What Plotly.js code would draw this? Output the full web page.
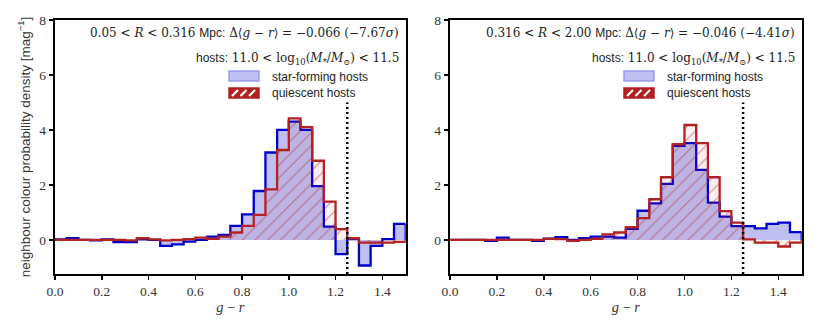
<!DOCTYPE html>
<html>
<head>
<meta charset="utf-8">
<script src="https://cdn.plot.ly/plotly-3.0.1.min.js"></script>
<style>
  body { margin: 0; background: #fff; }
  #grafica { width: 830px; height: 326px; }
</style>
</head>
<body>
<div id="grafica"></div>
<script>
// bin lower edges (g - r), width 0.05
const binStart = [0.00, 0.05, 0.10, 0.15, 0.20, 0.25, 0.30, 0.35, 0.40, 0.45,
                  0.50, 0.55, 0.60, 0.65, 0.70, 0.75, 0.80, 0.85, 0.90, 0.95,
                  1.00, 1.05, 1.10, 1.15, 1.20, 1.25, 1.30, 1.35, 1.40, 1.45];
const binEnd = 1.50;

// panel 1: 0.05 < R < 0.316 Mpc
const sfInner = [0.02, 0.06, 0.00, -0.02, 0.02, -0.08, -0.08, 0.02, 0.00, -0.22,
                 -0.16, -0.06, 0.00, 0.12, 0.18, 0.51, 0.93, 1.78, 3.18, 4.00,
                 4.30, 4.00, 1.96, 0.48, -0.52, 0.03, -0.93, -0.22, 0.03, 0.58];
const qInner  = [0.00, 0.00, 0.00, 0.00, 0.00, 0.00, -0.02, 0.06, 0.02, -0.02,
                 0.00, 0.03, 0.08, 0.04, 0.12, 0.27, 0.51, 0.91, 1.84, 3.27,
                 4.42, 4.10, 2.88, 1.39, 0.39, 0.06, -0.10, -0.10, -0.10, -0.07];

// panel 2: 0.316 < R < 2.00 Mpc
const sfOuter = [0.00, 0.00, 0.00, -0.03, 0.08, 0.00, 0.00, -0.03, 0.05, 0.10,
                 0.00, 0.06, 0.12, 0.12, 0.08, 0.40, 1.06, 1.33, 2.04, 3.42,
                 3.52, 2.55, 1.36, 0.85, 0.50, 0.50, 0.42, 0.58, 0.63, 0.28];
const qOuter  = [0.00, 0.00, 0.00, 0.00, 0.00, 0.00, 0.00, 0.00, 0.04, 0.03,
                 -0.03, 0.00, 0.04, 0.20, 0.27, 0.46, 0.79, 1.48, 2.28, 3.48,
                 4.18, 3.52, 2.28, 1.05, 0.63, 0.02, -0.10, -0.10, -0.24, -0.10];

const colourCut = 1.25;
const xTicks = [0.0, 0.2, 0.4, 0.6, 0.8, 1.0, 1.2, 1.4];
const yTicks = [0, 2, 4, 6, 8];

const panelText = [
  ['0.05', '0.316', '−0.066', '−7.67'],
  ['0.316', '2.00', '−0.046', '−4.41']
];
const hostsText = ['11.0', '11.5'];
const legendNames = ['star-forming hosts', 'quiescent hosts'];

const W = 830, H = 326;
const BLUE = '#0000CD', RED = '#B22222';
const SERIF = 'Liberation Serif, DejaVu Serif, serif';
const MATH = 'DejaVu Serif, serif';
const SANS = 'Liberation Sans, DejaVu Sans, sans-serif';

// outline of a histogram as a step line (closed down to zero at both ends)
function stepXY(vals) {
  const x = [binStart[0]].concat(binStart, [binEnd, binEnd]);
  const y = [0].concat(vals, [vals[vals.length - 1], 0]);
  return {x: x, y: y};
}

function histTraces(vals, xa, ya, kind) {
  const s = stepXY(vals);
  const t = {
    x: s.x, y: s.y, xaxis: xa, yaxis: ya,
    type: 'scatter', mode: 'lines', fill: 'tozeroy',
    line: {shape: 'hv', width: 2.3, color: kind === 'sf' ? BLUE : RED},
    showlegend: false, hoverinfo: 'skip'
  };
  if (kind === 'sf') {
    t.fillcolor = 'rgba(0,0,205,0.25)';
  } else {
    t.fillcolor = 'rgba(178,34,34,0.07)';
    t.fillpattern = {shape: '/', fgcolor: RED, size: 9, solidity: 0.12, fillmode: 'overlay'};
  }
  return t;
}

const data = [
  histTraces(sfInner, 'x', 'y', 'sf'),
  histTraces(qInner, 'x', 'y', 'q'),
  histTraces(sfOuter, 'x2', 'y2', 'sf'),
  histTraces(qOuter, 'x2', 'y2', 'q')
];

// pixel helpers for paper coordinates
const px = v => v / W;
const py = v => 1 - v / H;

const panelsLeft = [55, 450];
const panelsRight = [405.7, 801.7];

const shapes = [];
const annotations = [];
const sansSpan = s => '<span style="font-family:Liberation Sans">' + s + '</span>';

panelsLeft.forEach((left, i) => {
  const xr = i === 0 ? 'x' : 'x2', yr = i === 0 ? 'y' : 'y2';
  // colour cut
  shapes.push({type: 'line', xref: xr, yref: yr, x0: colourCut, x1: colourCut, y0: -1.24, y1: 5.0,
               line: {color: '#000', width: 2.5, dash: '2px,3px'}});

  const right = panelsRight[i];
  const t = panelText[i];
  annotations.push({
    xref: 'paper', yref: 'paper', x: px(right - 5), y: py(33), xanchor: 'right', yanchor: 'middle',
    showarrow: false, font: {family: MATH, size: 12, color: '#222'},
    text: t[0] + ' &lt; <i>R</i> &lt; ' + t[1] + ' ' + sansSpan('Mpc:') +
      ' Δ⟨<i>g</i> − <i>r</i>⟩ = ' + t[2] + ' (' + t[3] + '<i>σ</i>)'
  });
  annotations.push({
    xref: 'paper', yref: 'paper', x: px(right - 5), y: py(59), xanchor: 'right', yanchor: 'middle',
    showarrow: false, font: {family: MATH, size: 12, color: '#222'},
    text: sansSpan('hosts:') + ' ' + hostsText[0] +
      ' &lt; log<sub>10</sub>(<i>M</i><sub>*</sub>/<i>M</i><sub>⊙</sub>) &lt; ' + hostsText[1]
  });

  // legend
  const off = left - 55;
  const bx0 = 229 + off, bx1 = 259 + off;
  shapes.push({type: 'rect', xref: 'paper', yref: 'paper', x0: px(bx0), x1: px(bx1), y0: py(71), y1: py(81),
               fillcolor: 'rgba(0,0,205,0.25)', line: {color: '#9a9aea', width: 1.5}});
  shapes.push({type: 'rect', xref: 'paper', yref: 'paper', x0: px(bx0), x1: px(bx1), y0: py(88), y1: py(98),
               fillcolor: RED, line: {color: RED, width: 1.5}});
  [0, 1, 2].forEach(k => {
    const sx = bx0 + 6 + k * 8.5;
    shapes.push({type: 'line', xref: 'paper', yref: 'paper', x0: px(sx - 3), x1: px(sx + 3),
                 y0: py(96), y1: py(90), line: {color: '#fff', width: 2.2}});
  });
  legendNames.forEach((name, k) => {
    annotations.push({
      xref: 'paper', yref: 'paper', x: px(270 + off), y: py(k === 0 ? 77 : 93),
      xanchor: 'left', yanchor: 'middle', showarrow: false,
      font: {family: SANS, size: 12, color: '#222'}, text: name
    });
  });
});

const yDom = [(H - 274) / H, (H - 20) / H];

function xAxis(i) {
  return {
    domain: [px(panelsLeft[i]), px(panelsRight[i])],
    anchor: i === 0 ? 'y' : 'y2',
    range: [0, 1.5], tickvals: xTicks, ticktext: xTicks.map(v => v.toFixed(1)),
    ticks: 'outside', ticklen: 4, tickwidth: 1.5, tickcolor: '#000',
    showline: true, linewidth: 2.2, linecolor: '#000', mirror: true,
    showgrid: false, zeroline: false,
    tickfont: {family: SERIF, size: 13.5, color: '#333'},
    title: {text: '<i>g</i> − <i>r</i>', font: {family: SERIF, size: 14.5, color: '#333'}, standoff: 0}
  };
}
function yAxis(i) {
  const ax = {
    domain: yDom, anchor: i === 0 ? 'x' : 'x2',
    range: [-1.24, 8], tickvals: yTicks,
    ticks: 'outside', ticklen: 4, tickwidth: 1.5, tickcolor: '#000',
    showline: true, linewidth: 2.2, linecolor: '#000', mirror: true,
    showgrid: false, zeroline: false,
    tickfont: {family: SERIF, size: 13.5, color: '#333'}
  };
  if (i === 0) {
    ax.title = {text: 'neighbour colour probability density [mag<sup>−1</sup>]',
                font: {family: SANS, size: 13.5, color: '#333'}, standoff: 6};
  }
  return ax;
}

const layout = {
  width: W, height: H,
  margin: {l: 0, r: 0, t: 0, b: 0},
  paper_bgcolor: '#fff', plot_bgcolor: '#fff',
  showlegend: false,
  xaxis: xAxis(0), yaxis: yAxis(0),
  xaxis2: xAxis(1), yaxis2: yAxis(1),
  shapes: shapes, annotations: annotations
};

Plotly.newPlot('grafica', data, layout, {displayModeBar: false, staticPlot: true});
</script>
</body>
</html>
